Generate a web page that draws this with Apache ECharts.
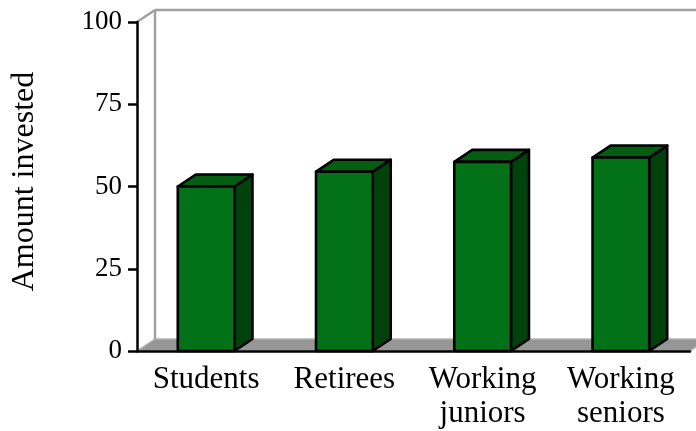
<html>
<head>
<meta charset="utf-8">
<script src="https://cdn.jsdelivr.net/npm/echarts@6/dist/echarts.min.js"></script>
<style>
  body { margin: 0; padding: 0; background: #fff; }
  #main { width: 696px; height: 431px; }
</style>
</head>
<body>
<div id="main"></div>
<script>
// data
var categories = ['Students', 'Retirees', 'Working\njuniors', 'Working\nseniors'];
var amounts = [50, 54.5, 57.5, 58.8];
var yTicks = { min: 0, max: 100, interval: 25 };

// 3D look: depth offset of the bars and the back wall (pixels)
var DX = 18, DY = -12;
var font = 'Liberation Serif';

var chart = echarts.init(document.getElementById('main'));

// floor + back wall, drawn from the axes' own scales
function renderRoom(params, api) {
  var half = api.size([1, 0])[0] / 2;
  var left = api.coord([0, 0])[0] - half;
  var right = api.coord([categories.length - 1, 0])[0] + half;
  var bot = api.coord([0, yTicks.min])[1];
  var top = api.coord([0, yTicks.max])[1];
  var wallStyle = { stroke: '#a0a0a0', lineWidth: 2.5, fill: null };
  return {
    type: 'group',
    children: [
      { type: 'polygon', shape: { points: [[left, bot], [right, bot], [right + DX, bot + DY], [left + DX, bot + DY]] },
        style: { fill: '#969696', stroke: '#b4b4b4', lineWidth: 1.5 } },
      { type: 'line', shape: { x1: left + DX, y1: bot + DY, x2: left + DX, y2: top + DY }, style: wallStyle },
      { type: 'line', shape: { x1: left + DX, y1: top + DY, x2: right + DX + 40, y2: top + DY }, style: wallStyle },
      { type: 'line', shape: { x1: left, y1: top, x2: left + DX, y2: top + DY }, style: wallStyle }
    ]
  };
}

function renderBar(params, api) {
  var p = api.coord([api.value(0), api.value(1)]);
  var base = api.coord([api.value(0), 0]);
  var w = api.size([1, 0])[0] * 0.41;
  var x0 = p[0] - w / 2, x1 = p[0] + w / 2, yt = p[1], yb = base[1];
  var edge = { stroke: '#000', lineWidth: 2.6, lineJoin: 'round' };
  return {
    type: 'group',
    children: [
      { type: 'polygon', shape: { points: [[x1, yt], [x1 + DX, yt + DY], [x1 + DX, yb + DY], [x1, yb]] },
        style: Object.assign({ fill: '#01420c' }, edge) },
      { type: 'polygon', shape: { points: [[x0, yt], [x0 + DX, yt + DY], [x1 + DX, yt + DY], [x1, yt]] },
        style: Object.assign({ fill: '#035e12' }, edge) },
      { type: 'rect', shape: { x: x0, y: yt, width: w, height: yb - yt },
        style: Object.assign({ fill: '#037118' }, edge) }
    ]
  };
}

chart.setOption({
  animation: false,
  grid: { left: 137, right: 6, top: 22, bottom: 80 },
  xAxis: {
    type: 'category',
    data: categories,
    z: 3,
    axisLine: { lineStyle: { color: '#000', width: 2.5 } },
    axisTick: { length: 10, lineStyle: { color: '#000', width: 2.5 } },
    axisLabel: { fontFamily: font, fontSize: 31, color: '#000', margin: 12, lineHeight: 34, interval: 0 },
    splitLine: { show: false }
  },
  yAxis: {
    type: 'value',
    min: yTicks.min, max: yTicks.max, interval: yTicks.interval,
    z: 3,
    name: 'Amount invested',
    nameLocation: 'middle',
    nameRotate: 90,
    nameGap: 96,
    nameTextStyle: { fontFamily: font, fontSize: 32, color: '#000', padding: [0, 0, 0, 10] },
    axisLine: { show: true, lineStyle: { color: '#000', width: 2.5 } },
    axisTick: { show: true, length: 9, lineStyle: { color: '#000', width: 2.5 } },
    axisLabel: { fontFamily: font, fontSize: 27, color: '#000', margin: 15 },
    splitLine: { show: false }
  },
  series: [
    { type: 'custom', z: 1, clip: false, renderItem: renderRoom, data: [[0, 0]], silent: true },
    { type: 'custom', z: 4, clip: false, renderItem: renderBar,
      data: amounts.map(function (v, i) { return [i, v]; }) }
  ]
});
</script>
</body>
</html>
